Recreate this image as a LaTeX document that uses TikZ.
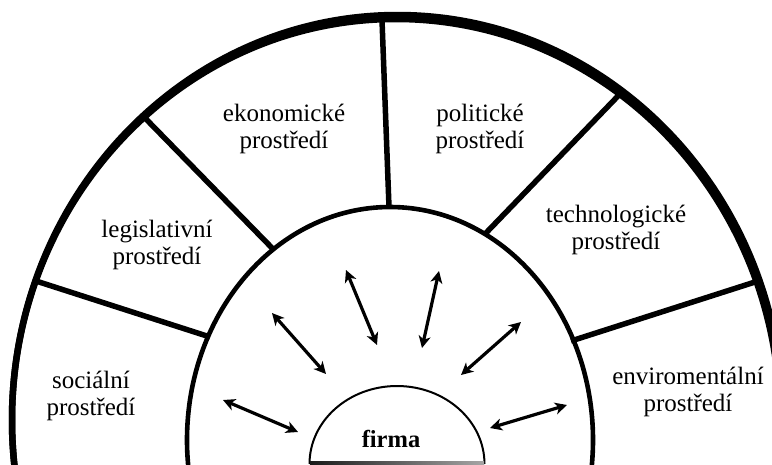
\documentclass[tikz,border=0pt]{standalone}
\usepackage{fontspec}
\setmainfont{Liberation Serif}
\usetikzlibrary{arrows.meta}

\tikzset{
  outerring/.style={line width=6.5pt},
  innerring/.style={line width=4.6pt},
  divider/.style={line width=5.5pt},
  firmashape/.style={line width=2pt},
  tip/.style={Stealth[length=12pt,width=12pt,inset=3.5pt]},
  link/.style={line width=3.2pt, {Stealth[length=12pt,width=12pt,inset=3.5pt]}-{Stealth[length=12pt,width=12pt,inset=3.5pt]}},
  envlabel/.style={align=center, inner sep=0pt, font=\fontsize{25}{27.5}\selectfont},
  firmalabel/.style={inner sep=0pt, font=\fontsize{24.5}{27}\selectfont\bfseries}
}

\begin{document}
\begin{tikzpicture}[x=1pt, y=-1pt]
  \useasboundingbox (0,0) rectangle (772,464);
  \fill[white] (0,0) rectangle (772,464);
  \clip (0,0) rectangle (772,464);

  % divider end points: outer ring / inner ring
  \coordinate (d1o) at (36,281);   \coordinate (d1i) at (210,337);
  \coordinate (d2o) at (145,118);  \coordinate (d2i) at (274,250);
  \coordinate (d3o) at (382,20);   \coordinate (d3i) at (389,207);
  \coordinate (d4o) at (618,96);   \coordinate (d4i) at (485,234);
  \coordinate (d5o) at (755,282);  \coordinate (d5i) at (571,341);

  % sector dividers
  \foreach \k in {1,...,5} \draw[divider] (d\k o) -- (d\k i);

  % outer ring: a second, slightly larger stroke makes the top and right heavier
  \draw[outerring] (396,420) ellipse [x radius=384pt, y radius=401pt];
  \draw[outerring] (397.5,420) ellipse [x radius=385.5pt, y radius=405pt];

  % inner ring
  \draw[innerring] (390,440) ellipse [x radius=203pt, y radius=233pt];

  % firm
  \draw[firmashape] (309.5,464) arc[start angle=180, end angle=0, x radius=87.5pt, y radius=78pt];
  \shade[left color=black!90, right color=black!35] (310,461.5) rectangle (484,464);
  \node[firmalabel] (firma) at (391,439) {firma};

  % environment labels
  \node[envlabel] (ekon)  at (284,129) {ekonomické\\prostředí};
  \node[envlabel] (polit) at (480,129) {politické\\prostředí};
  \node[envlabel] (legis) at (157,245) {legislativní\\prostředí};
  \node[envlabel] (tech)  at (616,230) {technologické\\prostředí};
  \node[envlabel] (soc)   at (91,396)  {sociální\\prostředí};
  \node[envlabel] (env)   at (688,392) {enviromentální\\prostředí};

  % interaction arrows
  \coordinate (a1o) at (223,400); \coordinate (a1i) at (298,432);
  \coordinate (a2o) at (272,313); \coordinate (a2i) at (326,374);
  \coordinate (a3o) at (346,270); \coordinate (a3i) at (377,345);
  \coordinate (a4o) at (439,271); \coordinate (a4i) at (422,348);
  \coordinate (a5o) at (521,322); \coordinate (a5i) at (461,375);
  \coordinate (a6o) at (567,405); \coordinate (a6i) at (490,428);
  \foreach \k in {1,...,6} \draw[link] (a\k o) -- (a\k i);
\end{tikzpicture}
\end{document}
